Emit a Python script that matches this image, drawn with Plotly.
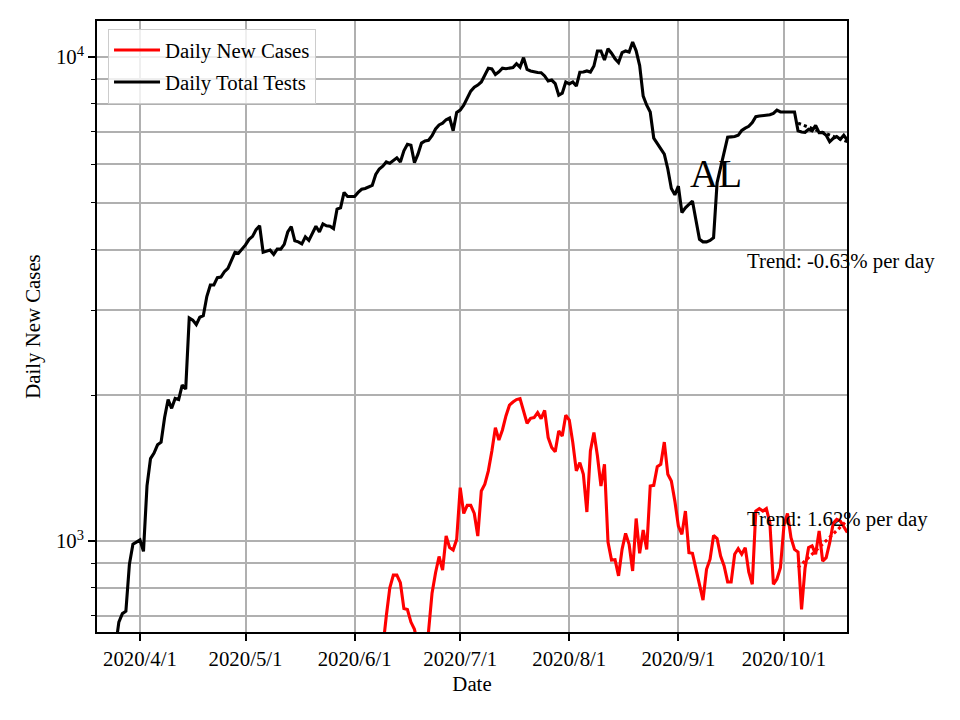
import pandas as pd
import plotly.graph_objects as go

# ---------------- data ----------------
tests_start = "2020-03-25"
daily_total_tests = [
    600, 680, 708, 716, 895, 985, 995, 1005, 952, 1300,
    1480, 1520, 1580, 1600, 1800, 1960, 1880, 1970, 1960, 2100,
    2060, 2890, 2860, 2800, 2900, 2920, 3200, 3380, 3380, 3500,
    3510, 3600, 3660, 3800, 3950, 3930, 4010, 4090, 4200, 4260,
    4400, 4480, 3950, 3970, 3990, 3910, 4010, 4010, 4100, 4350,
    4460, 4170, 4150, 4110, 4250, 4180, 4330, 4470, 4350, 4520,
    4480, 4470, 4420, 4850, 4880, 5250, 5150, 5150, 5150, 5250,
    5330, 5350, 5380, 5430, 5720, 5870, 5950, 6070, 6030, 6120,
    6190, 6070, 6400, 6600, 6570, 6050, 6300, 6640, 6710, 6730,
    6880, 7100, 7240, 7300, 7420, 7480, 7040, 7680, 7770, 7950,
    8200, 8500, 8660, 8750, 8880, 9200, 9480, 9450, 9200, 9320,
    9480, 9460, 9490, 9510, 9690, 9530, 9970, 9430, 9360, 9310,
    9290, 9280, 9140, 8920, 8960, 8810, 8340, 8420, 8880, 8800,
    8880, 8710, 9300, 9310, 9360, 9310, 9580, 10290, 10290, 9860,
    10400, 10180, 9920, 9740, 10210, 10290, 10240, 10740, 10300, 9600,
    8300, 7950, 7700, 6800, 6640, 6480, 6300, 5870, 5350, 5190,
    5410, 4770, 4880, 4960, 5040, 4600, 4200, 4150, 4150, 4180,
    4235, 5500, 5900, 6300, 6830, 6840, 6850, 6890, 7050, 7130,
    7190, 7320, 7530, 7550, 7570, 7580, 7600, 7650, 7770, 7700,
    7700, 7680, 7680, 7700, 7040, 7000, 6990, 7090, 7040, 7220,
    6980, 6980, 6890, 6680, 6790, 6850, 6760, 6890, 6740,
]

cases_start = "2020-06-08"
daily_new_cases = [
    560, 600, 700, 800, 850, 850, 820, 725, 722, 680,
    657, 610, 580, 600, 650, 780, 860, 929, 871, 1024,
    969, 958, 1008, 1289, 1140, 1185, 1185, 1140, 1024, 1269,
    1310, 1396, 1535, 1715, 1617, 1696, 1813, 1908, 1937, 1960,
    1969, 1857, 1751, 1793, 1799, 1842, 1790, 1862, 1636, 1560,
    1530, 1688, 1648, 1819, 1778, 1597, 1396, 1452, 1374, 1148,
    1535, 1675, 1498, 1299, 1440, 995, 913, 915, 847, 961,
    1037, 984, 867, 1113, 943, 1054, 961, 1299, 1303, 1424,
    1440, 1601, 1374, 1330, 1209, 1074, 1032, 1153, 946, 943,
    874, 820, 755, 874, 917, 1027, 1012, 931, 888, 823,
    823, 939, 964, 939, 969, 863, 814, 1153, 1167, 1153,
    1167, 1091, 814, 834, 881, 1077, 1140, 1016, 961, 949,
    722, 880, 969, 977, 939, 1049, 909, 924, 992, 1088,
    1108, 1100, 1070, 1041,
]

trend_dates = ["2020-10-05", "2020-10-19"]
tests_trend = [7300, 6685]
cases_trend = [881, 1103]

x_tick_dates = ["2020-04-01", "2020-05-01", "2020-06-01", "2020-07-01",
                "2020-08-01", "2020-09-01", "2020-10-01"]
x_tick_labels = ["2020/4/1", "2020/5/1", "2020/6/1", "2020/7/1",
                 "2020/8/1", "2020/9/1", "2020/10/1"]
y_major = [1000, 10000]
y_major_labels = ["10<sup>3</sup>", "10<sup>4</sup>"]
y_minor = [700, 800, 900, 2000, 3000, 4000, 5000, 6000, 7000, 8000, 9000]

tests_dates = pd.date_range(tests_start, periods=len(daily_total_tests), freq="D")
cases_dates = pd.date_range(cases_start, periods=len(daily_new_cases), freq="D")

FONT = "Liberation Serif, Times New Roman, serif"
FS = 20.8
GRID = "#b0b0b0"

fig = go.Figure()
fig.add_trace(go.Scatter(x=cases_dates, y=daily_new_cases, mode="lines",
                         name="Daily New Cases", legendgroup="a",
                         line=dict(color="red", width=3.1)))
fig.add_trace(go.Scatter(x=tests_dates, y=daily_total_tests, mode="lines",
                         name="Daily Total Tests", legendgroup="b",
                         line=dict(color="black", width=3.1)))
fig.add_trace(go.Scatter(x=pd.to_datetime(trend_dates), y=cases_trend, mode="lines",
                         showlegend=False,
                         line=dict(color="red", width=3.1, dash="dot")))
fig.add_trace(go.Scatter(x=pd.to_datetime(trend_dates), y=tests_trend, mode="lines",
                         showlegend=False,
                         line=dict(color="black", width=3.1, dash="dot")))

fig.update_layout(
    width=944, height=704,
    margin=dict(l=89, r=105, t=13, b=80),
    paper_bgcolor="white", plot_bgcolor="white",
    font=dict(family=FONT, size=FS, color="black"),
    showlegend=True,
    legend=dict(x=0.0147, y=0.987, xanchor="left", yanchor="top",
                bgcolor="rgba(255,255,255,0.8)", bordercolor="#cccccc",
                borderwidth=1, itemwidth=46, tracegroupgap=2,
                font=dict(family=FONT, size=FS)),
    xaxis=dict(
        range=["2020-03-19 19:00", "2020-10-18 22:00"],
        tickmode="array",
        tickvals=pd.to_datetime(x_tick_dates),
        ticktext=x_tick_labels,
        ticks="outside", ticklen=7, tickwidth=1.6, tickcolor="black",
        showgrid=True, gridcolor=GRID, gridwidth=1.6,
        showline=True, linecolor="black", linewidth=1.6, mirror=True,
        zeroline=False,
        tickfont=dict(family=FONT, size=FS),
        title=dict(text="Date", standoff=8, font=dict(family=FONT, size=FS)),
    ),
    yaxis=dict(
        type="log",
        range=[2.812, 4.0744],
        tickmode="array",
        tickvals=y_major, ticktext=y_major_labels,
        ticks="outside", ticklen=7, tickwidth=1.6, tickcolor="black",
        showgrid=True, gridcolor=GRID, gridwidth=1.6,
        minor=dict(tickmode="array", tickvals=y_minor, ticks="outside",
                   ticklen=4, tickwidth=1.2, tickcolor="black",
                   showgrid=True, gridcolor=GRID, gridwidth=1.6),
        showline=True, linecolor="black", linewidth=1.6, mirror=True,
        zeroline=False,
        tickfont=dict(family=FONT, size=FS),
        title=dict(text="Daily New Cases", standoff=10,
                   font=dict(family=FONT, size=FS)),
    ),
)

fig.add_annotation(text="AL", xref="paper", yref="paper", x=0.825, y=0.75,
                   xanchor="center", yanchor="middle", showarrow=False,
                   font=dict(family=FONT, size=39, color="black"))
fig.add_annotation(text="Trend: -0.63% per day", xref="paper", yref="paper",
                   x=0.864, y=0.607, xanchor="left", yanchor="middle",
                   showarrow=False, font=dict(family=FONT, size=FS, color="black"))
fig.add_annotation(text="Trend: 1.62% per day", xref="paper", yref="paper",
                   x=0.864, y=0.185, xanchor="left", yanchor="middle",
                   showarrow=False, font=dict(family=FONT, size=FS, color="black"))

fig.write_html("out.html")
